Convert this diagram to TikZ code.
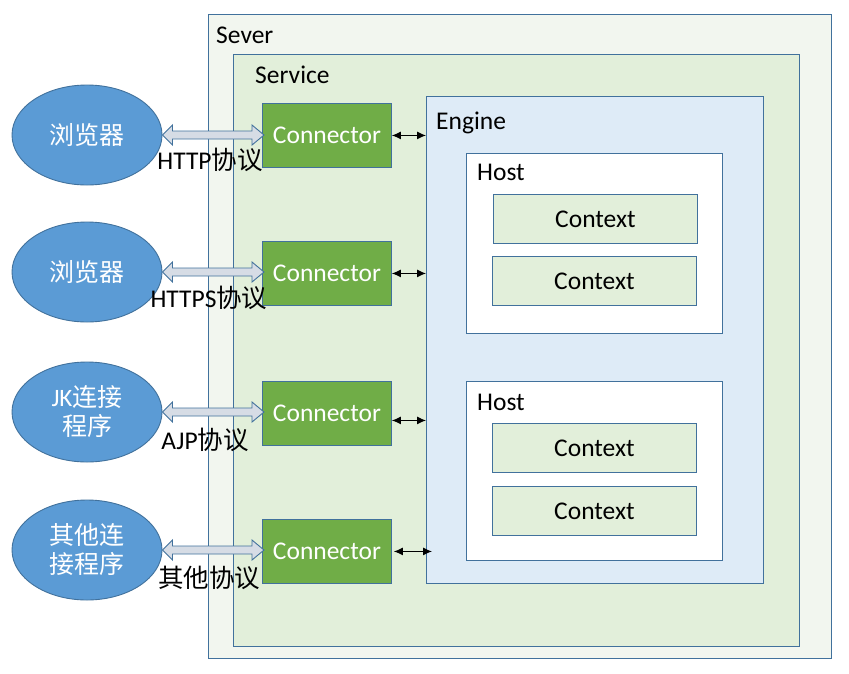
\documentclass[tikz,border=0pt]{standalone}
\usepackage{fontspec}
\setmainfont{Carlito}
\newfontfamily\cjk{Noto Sans CJK SC}
\usetikzlibrary{calc,arrows.meta,shapes.geometric}

\definecolor{frame}{HTML}{41719C}
\definecolor{severfill}{HTML}{F2F6EF}
\definecolor{servicefill}{HTML}{E2EFDA}
\definecolor{enginefill}{HTML}{DEEBF7}
\definecolor{connfill}{HTML}{70AD47}
\definecolor{clientfill}{HTML}{5B9BD5}
\definecolor{pipefill}{HTML}{D6DCE5}

\tikzset{
  box/.style={draw=frame, line width=0.9pt, rectangle, anchor=north west, inner sep=0pt},
  label text/.style={anchor=west, inner sep=0pt, text=black},
  connbox/.style={box, fill=connfill, minimum width=129, minimum height=64},
  ctxbox/.style={box, fill=servicefill, minimum width=204, minimum height=49},
  client/.style={ellipse, draw=frame, line width=0.9pt, fill=clientfill,
    minimum width=150, minimum height=100, inner sep=0pt, text=white,
    align=center, font=\fontsize{25}{31}\selectfont},
  pipe/.style={draw=frame, line width=0.9pt, fill=pipefill, line join=miter},
  link/.style={draw=black, line width=1pt, {Latex[length=9pt,width=8pt]}-{Latex[length=9pt,width=8pt]}},
  proto/.style={inner sep=0pt},
}

% double-headed block arrow from a client ellipse to its connector
\newcommand\pipeline[2]{%
  \path[pipe] let \p1=(#1.east), \p2=(#2.west) in
    (\x1,\y1) -- (\x1+10,\y1+10) -- (\x1+10,\y1+4) -- (\x2-10,\y1+4)
    -- (\x2-10,\y1+10) -- (\x2+2,\y1) -- (\x2-10,\y1-10) -- (\x2-10,\y1-4)
    -- (\x1+10,\y1-4) -- (\x1+10,\y1-10) -- cycle;}

\begin{document}
\begin{tikzpicture}[x=1pt,y=-1pt,font=\fontsize{25.5}{30}\selectfont]
\useasboundingbox (0,0) rectangle (849,673);

% containers
\node[box, fill=severfill, minimum width=623, minimum height=644] (sever) at (208,14) {};
\node[label text] (severlbl) at (216,35) {Sever};
\node[box, fill=servicefill, minimum width=566, minimum height=592] (service) at (233,54) {};
\node[label text] (servicelbl) at (255,75) {Service};
\node[box, fill=enginefill, minimum width=337, minimum height=487] (engine) at (426,96) {};
\node[label text] (enginelbl) at (436,123) {Engine};

% hosts and their contexts
\node[box, fill=white, minimum width=256, minimum height=180] (host1) at (466,153) {};
\node[label text] (host1lbl) at (477,172) {Host};
\node[ctxbox] (ctx1) at (493,194) {};
\node (ctx1lbl) at (ctx1.center) {Context};
\node[ctxbox] (ctx2) at (492,256) {};
\node (ctx2lbl) at (ctx2.center) {Context};

\node[box, fill=white, minimum width=256, minimum height=179] (host2) at (466,381) {};
\node[label text] (host2lbl) at (477,402) {Host};
\node[ctxbox] (ctx3) at (492,423) {};
\node (ctx3lbl) at (ctx3.center) {Context};
\node[ctxbox] (ctx4) at (492,486) {};
\node (ctx4lbl) at (ctx4.center) {Context};

% connectors
\node[connbox] (c1) at (262,103) {};
\node[connbox] (c2) at (262,241) {};
\node[connbox] (c3) at (262,381) {};
\node[connbox] (c4) at (262,519) {};
\foreach \c in {c1,c2,c3,c4}
  \node[text=white] (\c lbl) at (\c.center) {Connector};

% clients
\node[client] (b1) at (87,135) {\cjk 浏览器};
\node[client] (b2) at (87,272) {\cjk 浏览器};
\node[client] (b3) at (87,412) {JK{\cjk 连接}\\[-2pt]{\cjk 程序}};
\node[client] (b4) at (87,550) {\cjk 其他连\\[-2pt]\cjk 接程序};

% protocol links
\pipeline{b1}{c1}
\pipeline{b2}{c2}
\pipeline{b3}{c3}
\pipeline{b4}{c4}

\node[proto] (p1) at (210,160) {HTTP{\cjk 协议}};
\node[proto] (p2) at (209,298) {HTTPS{\cjk 协议}};
\node[proto] (p3) at (205,440) {AJP{\cjk 协议}};
\node[proto] (p4) at (209,578) {\cjk 其他协议};

% connector to engine
\draw[link] (c1.east) -- (c1.east -| engine.west);
\draw[link] (c2.east) -- (c2.east -| engine.west);
\draw[link] ($(c3.east)+(0,7)$) -- ($(c3.east -| engine.west)+(0,7)$);
\draw[link] ($(c4.east)+(2,0)$) -- ($(c4.east -| engine.west)+(6,0)$);
\end{tikzpicture}
\end{document}
